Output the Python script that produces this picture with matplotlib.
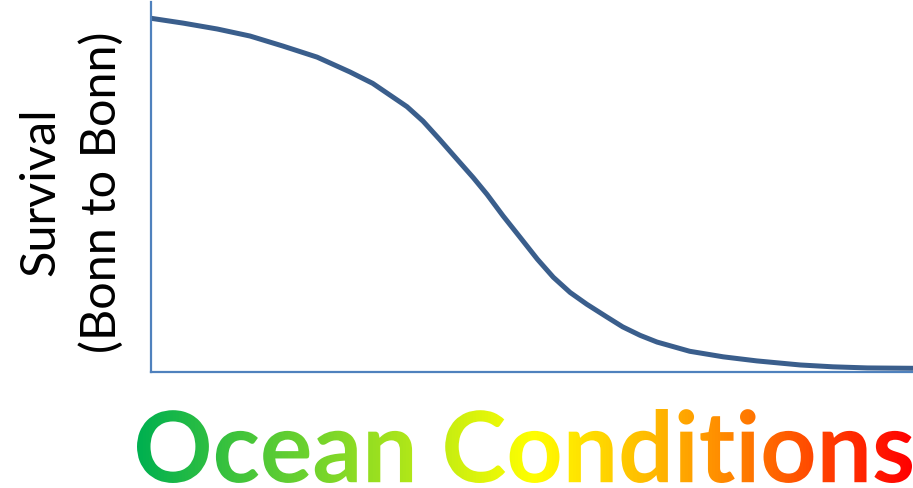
import numpy as np
import matplotlib
matplotlib.use("Agg")
import matplotlib.pyplot as plt
from matplotlib.colors import LinearSegmentedColormap
from matplotlib.font_manager import FontProperties
from matplotlib.patches import PathPatch
from matplotlib.textpath import TextPath
from matplotlib.transforms import Affine2D

# Survival vs ocean conditions (0 = good, 100 = poor)
conditions = [0, 4.2, 8.7, 13.0, 17.3, 21.8, 26.1, 29.1, 33.6, 35.7, 37.9, 40.2,
              42.3, 44.1, 46.2, 48.4, 50.7, 52.8, 55.0, 57.2, 59.8, 61.9, 64.2,
              66.4, 70.7, 75.1, 79.5, 85.2, 89.5, 94.0, 100]
survival = [0.956, 0.943, 0.927, 0.908, 0.881, 0.851, 0.811, 0.780, 0.717, 0.678,
            0.628, 0.574, 0.525, 0.480, 0.422, 0.365, 0.305, 0.256, 0.215, 0.183,
            0.149, 0.122, 0.099, 0.081, 0.056, 0.041, 0.030, 0.019, 0.014, 0.011,
            0.010]

W, H = 913, 489
fig = plt.figure(figsize=(W / 100, H / 100), dpi=100)

# main plot area in pixel fractions
ax = fig.add_axes([151 / W, (H - 373) / H, (W - 151) / W, 370 / H])
ax.plot(conditions, survival, color="#3a5e8c", lw=3.6, solid_capstyle="butt",
        solid_joinstyle="round")
ax.set_xlim(0, 100)
ax.set_ylim(0, 1)
ax.set_xticks([])
ax.set_yticks([])
for side in ("top", "right"):
    ax.spines[side].set_visible(False)
for side in ("left", "bottom"):
    ax.spines[side].set_color("#4f81bd")
    ax.spines[side].set_linewidth(1.6)

fig.text(40 / W, 1 - 192 / H, "Survival", rotation=90, ha="center", va="center",
         fontsize=35, family="Lato")
fig.text(101 / W, 1 - 192 / H, "(Bonn to Bonn)", rotation=90, ha="center",
         va="center", fontsize=35, family="Lato")

# overlay in pixel coordinates for the gradient title
tax = fig.add_axes([0, 0, 1, 1], zorder=5)
tax.set_xlim(0, W)
tax.set_ylim(H, 0)
tax.axis("off")

tp = TextPath((0, 0), "Ocean Conditions", size=100,
              prop=FontProperties(family="Lato", weight="bold"))
ext = tp.get_extents()
x0, x1, y_top, y_base = 137, 912, 410, 484
sx = (x1 - x0) / ext.width
sy = (y_base - y_top) / ext.height
tr = Affine2D().translate(-ext.x0, -ext.y0).scale(sx, -sy).translate(x0, y_base)
patch = PathPatch(tr.transform_path(tp), facecolor="none", edgecolor="none")
tax.add_patch(patch)

grad = LinearSegmentedColormap.from_list(
    "ocean", [(0.0, "#00b050"), (0.51, "#ffff00"), (0.72, "#ffa000"), (1.0, "#ff0000")])
img = tax.imshow(np.linspace(0, 1, 256)[None, :], cmap=grad, aspect="auto",
                 extent=(x0, x1, y_base + 2, y_top - 2))
img.set_clip_path(patch)
tax.set_xlim(0, W)
tax.set_ylim(H, 0)

fig.savefig("out.png", dpi=100)
